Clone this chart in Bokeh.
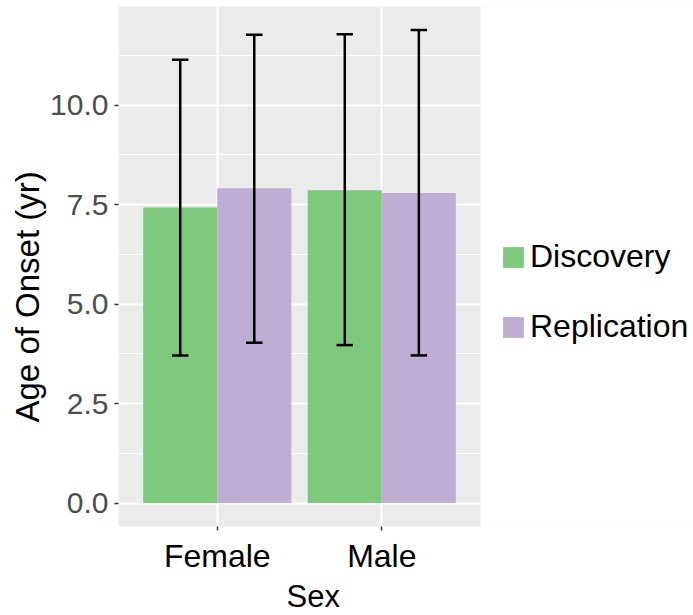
from bokeh.plotting import figure
from bokeh.models import (Range1d, SingleIntervalTicker, FixedTicker, ColumnDataSource,
                          Legend, LegendItem, PrintfTickFormatter, BoxAnnotation, Title)
from bokeh.embed import file_html
from bokeh.resources import INLINE

categories = ["Female", "Male"]
series = ["Discovery", "Replication"]
discovery_mean = [7.43, 7.86]
discovery_low = [3.71, 3.97]
discovery_high = [11.14, 11.78]
replication_mean = [7.91, 7.79]
replication_low = [4.03, 3.71]
replication_high = [11.77, 11.89]
colors = ["#7FC97F", "#BEAED4"]
x_title = "Sex"
y_title = "Age of Onset (yr)"

FONT = "Liberation Sans"
X_START, X_PANEL_END, X_FRAME_END = 0.4, 2.6, 3.894
Y_START, Y_END = -0.59, 12.48
p = figure(width=693, height=615, output_backend="svg", toolbar_location=None,
           x_range=Range1d(X_START, X_FRAME_END), y_range=Range1d(Y_START, Y_END),
           min_border_left=118, min_border_right=0, min_border_top=6, min_border_bottom=89)
p.background_fill_color = "#EBEBEB"
p.border_fill_color = "white"
p.outline_line_color = None

pos = [i + 1 for i in range(len(categories))]
bw = 0.45
renderers = []
for k, (m, lo, hi) in enumerate([(discovery_mean, discovery_low, discovery_high),
                                 (replication_mean, replication_low, replication_high)]):
    off = -bw / 2 if k == 0 else bw / 2
    xs = [x + off for x in pos]
    src = ColumnDataSource(dict(x=xs, top=m, lo=lo, hi=hi,
                                cl=[x - 0.05 for x in xs], cr=[x + 0.05 for x in xs]))
    r = p.vbar(x="x", top="top", bottom=0, width=bw, source=src,
               fill_color=colors[k], line_color=None)
    renderers.append(r)
    p.segment(x0="x", x1="x", y0="lo", y1="hi", source=src, line_color="black", line_width=2.5)
    p.segment(x0="cl", x1="cr", y0="lo", y1="lo", source=src, line_color="black", line_width=2.5)
    p.segment(x0="cl", x1="cr", y0="hi", y1="hi", source=src, line_color="black", line_width=2.5)

p.ygrid.ticker = SingleIntervalTicker(interval=2.5, num_minor_ticks=2)
p.yaxis.ticker = SingleIntervalTicker(interval=2.5, num_minor_ticks=2)
p.ygrid.grid_line_color = "white"
p.ygrid.grid_line_width = 2
p.ygrid.minor_grid_line_color = "white"
p.ygrid.minor_grid_line_width = 1.2
p.xaxis.ticker = FixedTicker(ticks=pos)
p.xgrid.ticker = FixedTicker(ticks=pos)
p.xgrid.grid_line_color = "white"
p.xgrid.grid_line_width = 2
p.xaxis.major_label_overrides = {pos[i]: categories[i] for i in range(len(categories))}
p.yaxis.formatter = PrintfTickFormatter(format="%.1f")

# blank the area right of the panel (legend area)
cover = BoxAnnotation(left=X_PANEL_END, bottom=Y_START - 1, top=Y_END + 1,
                      fill_color="white", fill_alpha=1.0,
                      line_color=None, level="underlay")
p.add_layout(cover)

for ax in (p.xaxis[0], p.yaxis[0]):
    ax.axis_line_color = None
    ax.major_tick_line_color = "#333333"
    ax.major_tick_line_width = 1.5
    ax.major_tick_out = 4
    ax.major_tick_in = 0
    ax.minor_tick_line_color = None
    ax.major_label_text_font = FONT

p.xaxis.major_label_text_font_size = "32px"
p.xaxis.major_label_text_color = "black"
p.yaxis.major_label_text_font_size = "30px"
p.yaxis.major_label_text_color = "#4D4D4D"
p.xaxis.major_label_standoff = 7
p.yaxis.major_label_standoff = 6

# axis titles as side titles so they can be placed like the reference
tx = Title(text=x_title, align="left", offset=168, standoff=0,
           text_font=FONT, text_font_size="31px", text_font_style="normal", text_color="black")
ty = Title(text=y_title, align="left", offset=104, standoff=4,
           text_font=FONT, text_font_size="33px", text_font_style="normal", text_color="black")
p.add_layout(tx, "below")
p.add_layout(ty, "left")

legend = Legend(items=[LegendItem(label=series[i], renderers=[renderers[i]]) for i in range(2)],
                location=(382, 181))
legend.label_text_font = FONT
legend.label_text_font_size = "32px"
legend.label_text_color = "black"
legend.glyph_width = 26
legend.glyph_height = 26
legend.label_height = 26
legend.spacing = 33
legend.background_fill_color = None
legend.background_fill_alpha = 0
legend.border_line_color = None
legend.margin = 0
legend.padding = 0
legend.label_standoff = 4
p.add_layout(legend)

open("out.html", "w").write(file_html(p, INLINE))
